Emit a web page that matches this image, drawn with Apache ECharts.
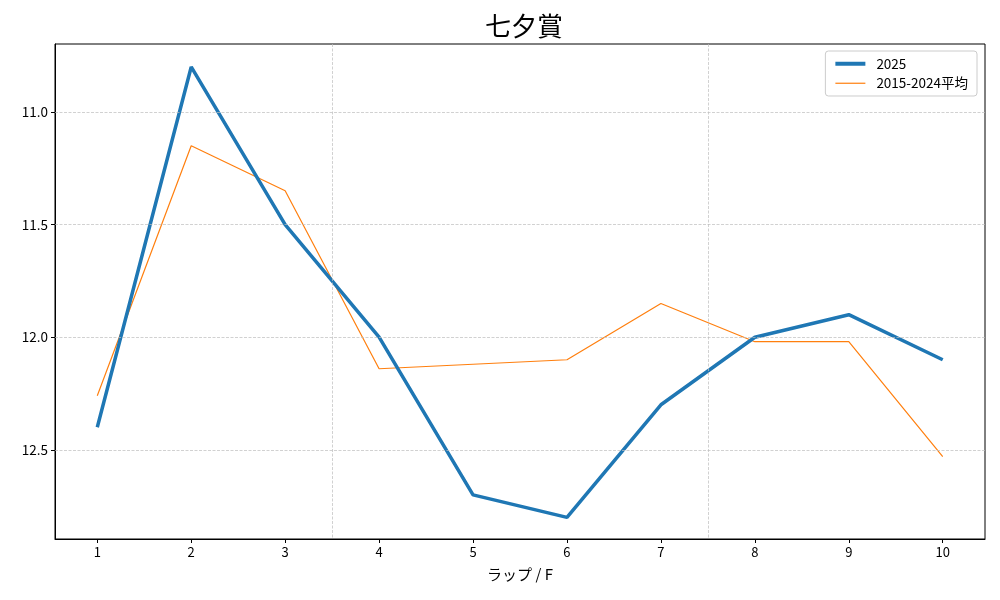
<!DOCTYPE html>
<html>
<head>
<meta charset="utf-8">
<script src="https://cdn.jsdelivr.net/npm/echarts@6/dist/echarts.min.js"></script>
<style>
html,body{margin:0;padding:0;background:#fff;}
#chart{width:1000px;height:600px;}
</style>
</head>
<body>
<div id="chart"></div>
<script>
var laps = [1, 2, 3, 4, 5, 6, 7, 8, 9, 10];
var y2025 = [12.4, 10.8, 11.5, 12.0, 12.7, 12.8, 12.3, 12.0, 11.9, 12.1];
var yAvg = [12.26, 11.15, 11.35, 12.14, 12.12, 12.1, 11.85, 12.02, 12.02, 12.53];
var yTicks = [11.0, 11.5, 12.0, 12.5];
var sectionBreaks = [3.5, 7.5];

function pairs(xs, ys){
	var out = [];
	for (var i = 0; i < xs.length; i++) out.push([xs[i], ys[i]]);
	return out;
}

var font = '"Noto Sans CJK JP", "DejaVu Sans", sans-serif';
var gridLine = {color: '#bdbdbd', width: 0.7, type: [3, 1.5]};

var myChart = echarts.init(document.getElementById('chart'));
var option = {
	backgroundColor: '#fff',
	animation: false,
	title: {
		text: '七夕賞',
		left: 519,
		textAlign: 'center',
		top: 8,
		textStyle: {fontFamily: font, fontSize: 26, fontWeight: 'normal', color: '#000'}
	},
	legend: {
		right: 23,
		top: 51,
		orient: 'vertical',
		itemWidth: 30,
		itemHeight: 10,
		itemGap: 6,
		padding: [6, 9, 6, 8],
		borderColor: '#cccccc',
		borderWidth: 1,
		borderRadius: 3,
		backgroundColor: 'rgba(255,255,255,0.8)',
		textStyle: {fontFamily: font, fontSize: 13.5, color: '#000', padding: [0, 0, 0, 6]},
		data: [
			{name: '2025', itemStyle: {opacity: 0}, lineStyle: {width: 4}},
			{name: '2015-2024平均', itemStyle: {opacity: 0}, lineStyle: {width: 1.2}}
		]
	},
	grid: {
		left: 55, right: 15, top: 44, bottom: 61,
		show: true, borderColor: '#000', borderWidth: 1
	},
	xAxis: {
		type: 'value',
		min: 0.55,
		max: 10.45,
		name: 'ラップ / F',
		nameLocation: 'middle',
		nameGap: 28,
		nameTextStyle: {fontFamily: font, fontSize: 15, color: '#000'},
		axisLine: {show: true, onZero: false, lineStyle: {color: '#000'}},
		axisTick: {show: true, length: 4, lineStyle: {color: '#000'}, customValues: laps},
		axisLabel: {fontFamily: font, fontSize: 13, color: '#000', margin: 7, customValues: laps},
		splitLine: {show: false}
	},
	yAxis: {
		type: 'value',
		inverse: true,
		min: 10.698,
		max: 12.896,
		axisLine: {show: true, lineStyle: {color: '#000'}},
		axisTick: {show: true, length: 4, lineStyle: {color: '#000'}, customValues: yTicks},
		axisLabel: {
			fontFamily: font, fontSize: 13.5, color: '#000', margin: 7,
			customValues: yTicks,
			formatter: function(v){ return v.toFixed(1); }
		},
		splitLine: {show: false}
	},
	series: [
		{
			name: '2025',
			type: 'line',
			data: pairs(laps, y2025),
			symbol: 'none',
			lineStyle: {color: '#1f77b4', width: 3.5},
			itemStyle: {color: '#1f77b4'},
			z: 3,
			markLine: {
				silent: true,
				symbol: 'none',
				label: {show: false},
				lineStyle: gridLine,
				data: sectionBreaks.map(function(v){ return {xAxis: v}; })
					.concat(yTicks.map(function(v){ return {yAxis: v}; }))
			}
		},
		{
			name: '2015-2024平均',
			type: 'line',
			data: pairs(laps, yAvg),
			symbol: 'none',
			lineStyle: {color: '#ff7f0e', width: 1.2},
			itemStyle: {color: '#ff7f0e'},
			z: 2
		}
	]
};
myChart.setOption(option);
</script>
</body>
</html>
